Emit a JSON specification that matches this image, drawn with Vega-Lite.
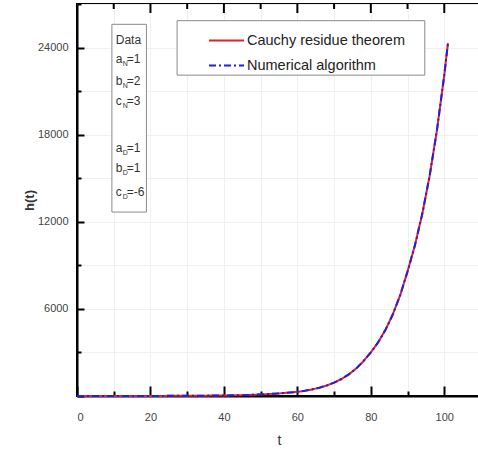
{
  "$schema": "https://vega.github.io/schema/vega-lite/v6.json",
  "autosize": "none",
  "width": 404,
  "height": 392,
  "padding": {"left": 77, "top": 4, "right": 0, "bottom": 63},
  "background": "white",
  "config": {
    "view": {"stroke": "#000000", "strokeWidth": 2},
    "font": "Liberation Sans"
  },
  "datasets": {
    "curve": [
      {"t": 0, "h": 0, "series": "Cauchy residue theorem"},
      {"t": 10, "h": 2, "series": "Cauchy residue theorem"},
      {"t": 20, "h": 5, "series": "Cauchy residue theorem"},
      {"t": 30, "h": 13, "series": "Cauchy residue theorem"},
      {"t": 40, "h": 35, "series": "Cauchy residue theorem"},
      {"t": 45, "h": 60, "series": "Cauchy residue theorem"},
      {"t": 50, "h": 105, "series": "Cauchy residue theorem"},
      {"t": 55, "h": 175, "series": "Cauchy residue theorem"},
      {"t": 60, "h": 285, "series": "Cauchy residue theorem"},
      {"t": 62, "h": 355, "series": "Cauchy residue theorem"},
      {"t": 64, "h": 450, "series": "Cauchy residue theorem"},
      {"t": 66, "h": 570, "series": "Cauchy residue theorem"},
      {"t": 68, "h": 725, "series": "Cauchy residue theorem"},
      {"t": 70, "h": 920, "series": "Cauchy residue theorem"},
      {"t": 72, "h": 1170, "series": "Cauchy residue theorem"},
      {"t": 74, "h": 1490, "series": "Cauchy residue theorem"},
      {"t": 76, "h": 1890, "series": "Cauchy residue theorem"},
      {"t": 78, "h": 2400, "series": "Cauchy residue theorem"},
      {"t": 80, "h": 3000, "series": "Cauchy residue theorem"},
      {"t": 82, "h": 3700, "series": "Cauchy residue theorem"},
      {"t": 84, "h": 4560, "series": "Cauchy residue theorem"},
      {"t": 86, "h": 5630, "series": "Cauchy residue theorem"},
      {"t": 88, "h": 6950, "series": "Cauchy residue theorem"},
      {"t": 90, "h": 8580, "series": "Cauchy residue theorem"},
      {"t": 92, "h": 10370, "series": "Cauchy residue theorem"},
      {"t": 94, "h": 12530, "series": "Cauchy residue theorem"},
      {"t": 96, "h": 15140, "series": "Cauchy residue theorem"},
      {"t": 98, "h": 18300, "series": "Cauchy residue theorem"},
      {"t": 100, "h": 22100, "series": "Cauchy residue theorem"},
      {"t": 101, "h": 24300, "series": "Cauchy residue theorem"},
      {"t": 0, "h": 0, "series": "Numerical algorithm"},
      {"t": 10, "h": 2, "series": "Numerical algorithm"},
      {"t": 20, "h": 5, "series": "Numerical algorithm"},
      {"t": 30, "h": 13, "series": "Numerical algorithm"},
      {"t": 40, "h": 35, "series": "Numerical algorithm"},
      {"t": 45, "h": 60, "series": "Numerical algorithm"},
      {"t": 50, "h": 105, "series": "Numerical algorithm"},
      {"t": 55, "h": 175, "series": "Numerical algorithm"},
      {"t": 60, "h": 285, "series": "Numerical algorithm"},
      {"t": 62, "h": 355, "series": "Numerical algorithm"},
      {"t": 64, "h": 450, "series": "Numerical algorithm"},
      {"t": 66, "h": 570, "series": "Numerical algorithm"},
      {"t": 68, "h": 725, "series": "Numerical algorithm"},
      {"t": 70, "h": 920, "series": "Numerical algorithm"},
      {"t": 72, "h": 1170, "series": "Numerical algorithm"},
      {"t": 74, "h": 1490, "series": "Numerical algorithm"},
      {"t": 76, "h": 1890, "series": "Numerical algorithm"},
      {"t": 78, "h": 2400, "series": "Numerical algorithm"},
      {"t": 80, "h": 3000, "series": "Numerical algorithm"},
      {"t": 82, "h": 3700, "series": "Numerical algorithm"},
      {"t": 84, "h": 4560, "series": "Numerical algorithm"},
      {"t": 86, "h": 5630, "series": "Numerical algorithm"},
      {"t": 88, "h": 6950, "series": "Numerical algorithm"},
      {"t": 90, "h": 8580, "series": "Numerical algorithm"},
      {"t": 92, "h": 10370, "series": "Numerical algorithm"},
      {"t": 94, "h": 12530, "series": "Numerical algorithm"},
      {"t": 96, "h": 15140, "series": "Numerical algorithm"},
      {"t": 98, "h": 18300, "series": "Numerical algorithm"},
      {"t": 100, "h": 22100, "series": "Numerical algorithm"},
      {"t": 101, "h": 24300, "series": "Numerical algorithm"}
    ],
    "box": [
      {"x1": 9.5, "x2": 18.9, "y1": 12670, "y2": 25600},
      {"x1": 27.25, "x2": 94.7, "y1": 22100, "y2": 25850}
    ],
    "topMajor": [{"t": 20}, {"t": 40}, {"t": 60}, {"t": 80}, {"t": 100}],
    "topMinor": [{"t": 10}, {"t": 30}, {"t": 50}, {"t": 70}, {"t": 90}],
    "mainText": [
      {"x": 10.54, "y": 24536, "label": "Data"},
      {"x": 10.54, "y": 23205, "label": "a"},
      {"x": 13.54, "y": 23205, "label": "=1"},
      {"x": 10.54, "y": 21707, "label": "b"},
      {"x": 13.54, "y": 21707, "label": "=2"},
      {"x": 10.54, "y": 20286, "label": "c"},
      {"x": 13.54, "y": 20286, "label": "=3"},
      {"x": 10.54, "y": 17112, "label": "a"},
      {"x": 13.54, "y": 17112, "label": "=1"},
      {"x": 10.54, "y": 15732, "label": "b"},
      {"x": 13.54, "y": 15732, "label": "=1"},
      {"x": 10.54, "y": 14028, "label": "c"},
      {"x": 13.54, "y": 14028, "label": "=-6"}
    ],
    "subText": [
      {"x": 12.45, "y": 22860, "label": "N"},
      {"x": 12.45, "y": 21362, "label": "N"},
      {"x": 12.45, "y": 19941, "label": "N"},
      {"x": 12.45, "y": 16767, "label": "D"},
      {"x": 12.45, "y": 15387, "label": "D"},
      {"x": 12.45, "y": 13683, "label": "D"}
    ]
  },
  "layer": [
    {
      "data": {"name": "curve"},
      "mark": {"type": "line", "strokeWidth": 2},
      "encoding": {
        "x": {
          "field": "t", "type": "quantitative",
          "scale": {"domain": [0, 110], "nice": false, "zero": true},
          "axis": {
            "orient": "bottom",
            "title": "t",
            "titleFontSize": 14, "titleFontWeight": "normal", "titleColor": "#333", "titlePadding": 11,
            "values": [0, 10, 20, 30, 40, 50, 60, 70, 80, 90, 100, 110],
            "labelExpr": "datum.value % 20 === 0 && datum.value <= 100 ? datum.label : ''",
            "labelFontSize": 11, "labelColor": "#444", "labelPadding": 25,
            "tickSize": {"condition": {"test": "datum.value % 20 === 0", "value": -10}, "value": -5},
            "tickColor": "#000", "tickWidth": 2,
            "domainColor": "#000", "domainWidth": 2,
            "grid": true, "gridColor": "#eef0f0", "gridWidth": 1
          }
        },
        "y": {
          "field": "h", "type": "quantitative",
          "scale": {"domain": [0, 27000], "nice": false},
          "axis": {
            "orient": "left",
            "title": "h(t)",
            "titleFontSize": 13, "titleFontWeight": "bold", "titleColor": "#333", "titlePadding": 1,
            "values": [0, 3000, 6000, 9000, 12000, 15000, 18000, 21000, 24000, 27000],
            "labelExpr": "datum.value % 6000 === 0 && datum.value > 0 ? datum.label : ''",
            "format": "d",
            "labelFontSize": 11, "labelColor": "#444", "labelPadding": 16,
            "tickSize": {"condition": {"test": "datum.value % 6000 === 0", "value": -7}, "value": -4},
            "tickColor": "#000", "tickWidth": 2,
            "domainColor": "#000", "domainWidth": 2,
            "grid": true, "gridColor": "#eef0f0", "gridWidth": 1
          }
        },
        "color": {
          "field": "series", "type": "nominal",
          "scale": {"domain": ["Cauchy residue theorem", "Numerical algorithm"], "range": ["#ee1c24", "#1f1fe0"]},
          "legend": {
            "orient": "none", "legendX": 100, "legendY": 18,
            "title": null,
            "symbolType": "stroke", "symbolSize": 1225, "symbolStrokeWidth": 2,
            "labelFontSize": 14.5, "labelColor": "#222", "labelFont": "Liberation Sans",
            "padding": 0, "rowPadding": -1, "symbolOffset": 31, "labelOffset": 2
          }
        },
        "strokeDash": {
          "field": "series", "type": "nominal",
          "scale": {"domain": ["Cauchy residue theorem", "Numerical algorithm"], "range": [[1, 0], [7, 3, 2, 3]]},
          "legend": null
        }
      }
    },
    {
      "data": {"name": "box"},
      "mark": {"type": "rect", "fill": "#ffffff", "stroke": "#8a8a8a", "strokeWidth": 1},
      "encoding": {
        "x": {"field": "x1", "type": "quantitative", "axis": null},
        "x2": {"field": "x2"},
        "y": {"field": "y1", "type": "quantitative", "axis": null},
        "y2": {"field": "y2"}
      }
    },
    {
      "data": {"name": "topMajor"},
      "mark": {"type": "rule", "color": "#000000", "strokeWidth": 2},
      "encoding": {
        "x": {"field": "t", "type": "quantitative", "axis": null},
        "y": {"datum": 27000, "type": "quantitative", "axis": null},
        "y2": {"datum": 26380}
      }
    },
    {
      "data": {"name": "topMinor"},
      "mark": {"type": "rule", "color": "#000000", "strokeWidth": 2},
      "encoding": {
        "x": {"field": "t", "type": "quantitative", "axis": null},
        "y": {"datum": 27000, "type": "quantitative", "axis": null},
        "y2": {"datum": 26655}
      }
    },
    {
      "data": {"name": "mainText"},
      "mark": {"type": "text", "align": "left", "baseline": "middle", "fontSize": 12, "color": "#333"},
      "encoding": {
        "x": {"field": "x", "type": "quantitative", "axis": null},
        "y": {"field": "y", "type": "quantitative", "axis": null},
        "text": {"field": "label"}
      }
    },
    {
      "data": {"name": "subText"},
      "mark": {"type": "text", "align": "left", "baseline": "middle", "fontSize": 7, "color": "#333"},
      "encoding": {
        "x": {"field": "x", "type": "quantitative", "axis": null},
        "y": {"field": "y", "type": "quantitative", "axis": null},
        "text": {"field": "label"}
      }
    }
  ],
  "resolve": {"axis": {"x": "independent", "y": "independent"}}
}
